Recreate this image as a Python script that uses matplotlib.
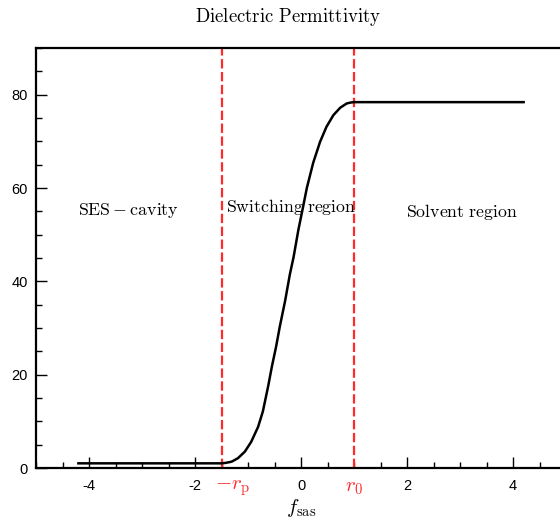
import matplotlib
matplotlib.use("Agg")
import matplotlib.pyplot as plt
import matplotlib.transforms as mtransforms

plt.rcParams["mathtext.fontset"] = "cm"
plt.rcParams["font.family"] = ["Liberation Sans", "DejaVu Sans"]

# permittivity profile
f_sas = [-4.2, -1.5, -1.42, -1.31, -1.19, -1.06, -0.94, -0.81, -0.72, -0.62,
         -0.55, -0.47, -0.40, -0.30, -0.21, -0.14, -0.05, 0.04, 0.11, 0.23,
         0.36, 0.48, 0.61, 0.74, 0.86, 0.93, 1.0, 4.2]
eps = [1.0, 1.0, 1.1, 1.35, 2.1, 3.5, 5.6, 8.8, 12.1, 17.5,
       21.7, 26.0, 30.3, 35.8, 41.5, 45.2, 51.0, 56.0, 60.0, 65.4,
       69.9, 73.1, 75.6, 77.2, 78.1, 78.3, 78.4, 78.4]

r_p = 1.5
r_0 = 1.0

x_ticks = [-4, -2, 0, 2, 4]
y_ticks = [0, 20, 40, 60, 80]

regions = [
    (-3.25, 55.2, r"$\mathrm{SES-cavity}$"),
    (-0.18, 55.9, r"$\mathrm{Switching\ region}$"),
    (3.04, 54.8, r"$\mathrm{Solvent\ region}$"),
]

RED = "#ff2a2a"

fig = plt.figure(figsize=(5.6, 5.19), dpi=100)
ax = fig.add_axes([36 / 560, 51 / 519, 530 / 560, 420 / 519])

ax.plot(f_sas, eps, color="black", linewidth=1.8, zorder=3,
        solid_joinstyle="round")

for xv in (-r_p, r_0):
    ax.axvline(xv, color=RED, linewidth=1.6, dashes=(4.2, 1.6), zorder=2)

for x, y, label in regions:
    ax.text(x, y, label, fontsize=12.8, ha="center", va="center", zorder=4)

ax.set_xlim(-5, 5)
ax.set_ylim(0, 90)
ax.set_xticks(x_ticks)
ax.set_xticklabels([str(t) for t in x_ticks])
ax.set_yticks(y_ticks)
ax.set_xticks([i * 0.5 for i in range(-10, 11)], minor=True)
ax.set_yticks(list(range(0, 91, 5)), minor=True)
ax.tick_params(which="major", direction="in", length=8, width=1.0,
               labelsize=10.5, pad=8)
ax.tick_params(which="minor", direction="in", length=4, width=1.0)
ax.tick_params(axis="y", which="major", pad=6)
for sp in ax.spines.values():
    sp.set_linewidth(1.6)

trans = mtransforms.blended_transform_factory(ax.transData, ax.transAxes)
ax.annotate(r"$-r_\mathrm{p}$", xy=(-r_p, -0.047), xycoords=trans,
            xytext=(8, 0), textcoords="offset points",
            color=RED, fontsize=15, ha="center", va="center")
ax.text(r_0, -0.047, r"$r_0$", color=RED, fontsize=15,
        ha="center", va="center", transform=trans)

fig.text(301 / 560, 1 - 508 / 519, r"$f_\mathrm{sas}$", fontsize=15,
         ha="center", va="center")
fig.text(288 / 560, 1 - 17 / 519, r"$\mathrm{Dielectric\ Permittivity}$",
         fontsize=13.5, ha="center", va="center")

fig.savefig("out.png", dpi=100)
